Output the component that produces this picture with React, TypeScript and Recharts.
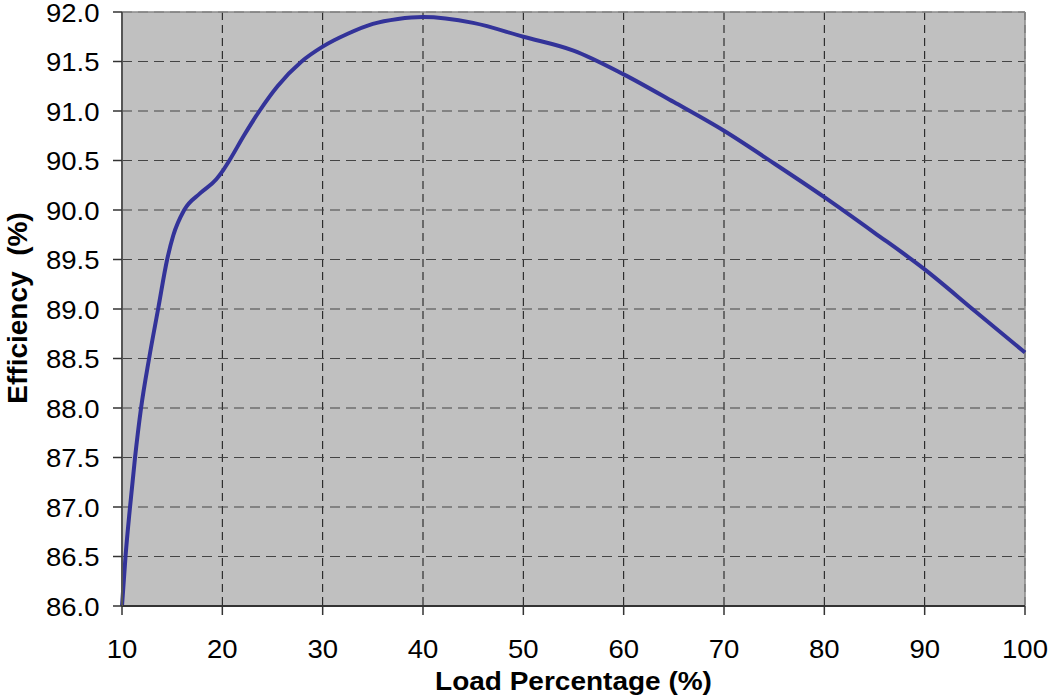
import React from 'react';
import { LineChart, Line, XAxis, YAxis, CartesianGrid, ReferenceLine } from 'recharts';

const loadPct = [10, 10.35, 10.8, 11.3, 11.9, 12.7, 13.6, 14.5, 15.1, 16.2, 17.8, 19.4, 20, 20.7, 22.2, 23.7, 25.5, 27.9, 30, 32.5, 35, 37.5, 40, 45, 50, 55, 60, 65, 70, 75, 80, 85, 90, 95, 100];
const efficiency = [86.0, 86.5, 87.0, 87.5, 88.0, 88.5, 89.0, 89.5, 89.74, 90.0, 90.17, 90.31, 90.39, 90.5, 90.76, 91.0, 91.25, 91.5, 91.65, 91.78, 91.88, 91.93, 91.95, 91.89, 91.75, 91.61, 91.37, 91.09, 90.8, 90.47, 90.13, 89.77, 89.4, 88.98, 88.56];
const xTicks = [10, 20, 30, 40, 50, 60, 70, 80, 90, 100];
const yTicks = [86, 86.5, 87, 87.5, 88, 88.5, 89, 89.5, 90, 90.5, 91, 91.5, 92];
const xTitle = 'Load Percentage (%)';
const yTitle = 'Efficiency  (%)';

const data = loadPct.map((load, i) => ({ load, eff: efficiency[i] }));

const SX = 1.1;
const FONT = '"Liberation Sans", Arial, sans-serif';

function XTick(props: any) {
  const { x, y, payload } = props;
  return (
    <g transform={`translate(${x},${y})`}>
      <text transform={`scale(${SX},1)`} textAnchor="middle" y={43} fontSize={25} fontFamily={FONT} fill="#000">
        {payload.value}
      </text>
    </g>
  );
}

function YTick(props: any) {
  const { x, y, payload } = props;
  return (
    <g transform={`translate(${x - 13.5},${y + 9.5})`}>
      <text transform={`scale(${SX},1)`} textAnchor="end" fontSize={25} fontFamily={FONT} fill="#000">
        {Number(payload.value).toFixed(1)}
      </text>
    </g>
  );
}

export default function App() {
  return (
    <div style={{ position: 'absolute', left: 0, top: 0, width: 1050, height: 696, background: '#fff' }}>
      <LineChart width={1050} height={696} data={data} margin={{ top: 12, right: 25, left: 0, bottom: 0 }}>
        <CartesianGrid horizontal={false} vertical stroke="#111" strokeDasharray="8 5" fill="#C0C0C0" />
        <CartesianGrid horizontal vertical={false} stroke="#444" strokeDasharray="10 6" />
        <XAxis
          dataKey="load"
          type="number"
          domain={[10, 100]}
          ticks={xTicks}
          interval={0}
          height={90}
          tickSize={9}
          tickMargin={0}
          tick={<XTick />}
          axisLine={{ stroke: '#333', strokeWidth: 2 }}
          tickLine={{ stroke: '#333', strokeWidth: 1.5 }}
          label={{
            content: () => (
              <text transform={`translate(573.5,690) scale(1.12,1)`} textAnchor="middle" fontSize={25} fontWeight="bold" fontFamily={FONT} fill="#000">
                {xTitle}
              </text>
            ),
          }}
        />
        <YAxis
          type="number"
          domain={[86, 92]}
          ticks={yTicks}
          interval={0}
          width={122}
          tickSize={9}
          tickMargin={0}
          tick={<YTick />}
          axisLine={{ stroke: '#555', strokeWidth: 2 }}
          tickLine={{ stroke: '#333', strokeWidth: 1.5 }}
          label={{
            content: () => (
              <text transform={`translate(27,308) rotate(-90)`} textAnchor="middle" fontSize={28} fontWeight="bold" fontFamily={FONT} fill="#000" style={{ whiteSpace: 'pre' }}>
                {yTitle}
              </text>
            ),
          }}
        />
        <ReferenceLine y={92} stroke="#8a8a8a" strokeWidth={1.5} />
        <ReferenceLine x={100} stroke="#8a8a8a" strokeWidth={1.5} />
        <Line type="monotone" dataKey="eff" stroke="#333399" strokeWidth={4} dot={false} activeDot={false} isAnimationActive={false} />
      </LineChart>
    </div>
  );
}
